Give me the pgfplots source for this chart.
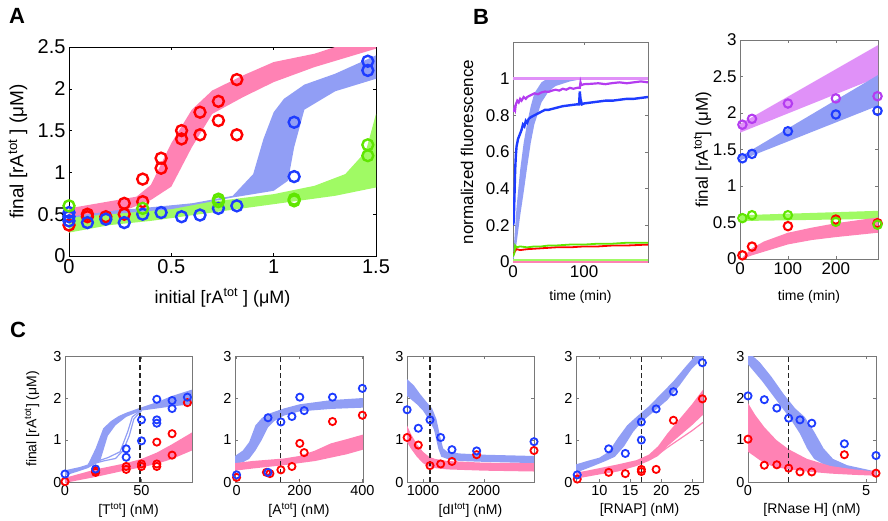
\documentclass[border=0pt]{standalone}
\usepackage{fontspec}
\setmainfont{Liberation Sans}
\usepackage{pgfplots}
\pgfplotsset{compat=1.18}
\definecolor{cred}{RGB}{255,0,0}
\definecolor{cblue}{RGB}{30,60,255}
\definecolor{cgreen}{RGB}{95,230,0}
\definecolor{cpurp}{RGB}{180,60,240}
\definecolor{bpink}{RGB}{255,130,180}
\definecolor{bblue}{RGB}{145,158,245}
\definecolor{bgreen}{RGB}{160,250,100}
\definecolor{bviol}{RGB}{224,145,248}
\definecolor{frm}{RGB}{120,120,120}
\pgfplotsset{
 base/.style={scale only axis, axis line style={frm, line width=0.8pt}, tick style={frm, line width=0.6pt}, major tick length=3pt, /pgf/number format/assume math mode=true, /pgf/number format/1000 sep={}},
 bigpts/.style={only marks, mark=o, mark size=5.5pt, line width=2.4pt},
 midpts/.style={only marks, mark=o, mark size=4.2pt, line width=2.1pt},
 smpts/.style={only marks, mark=o, mark size=3.6pt, line width=1.8pt},
 band/.style={draw=none, fill=#1, forget plot},
 cax/.style={base, width=127pt, height=126pt, ymin=0, ymax=3, ytick={0,1,2,3},
   tick label style={font=\fontsize{14.5}{16}\selectfont},
   label style={font=\fontsize{14}{16}\selectfont},
   xlabel style={at={(axis description cs:0.5,-0.222)}, anchor=center}},
 dash/.style={black!85, line width=1.1pt, dash pattern=on 5pt off 3pt, forget plot},
}
\begin{document}
\begin{tikzpicture}
\path[use as bounding box] (0pt,0pt) rectangle (888pt,-520pt);
\node[font=\fontsize{22}{24}\selectfont\bfseries] at (17pt,-16pt) {A};
\node[font=\fontsize{22}{24}\selectfont\bfseries] at (481pt,-17pt) {B};
\node[font=\fontsize{22}{24}\selectfont\bfseries] at (18pt,-330pt) {C};

% ---------------- Panel A
\begin{axis}[base, at={(69pt,-256pt)}, anchor=south west, width=307pt, height=209pt,
  axis line style={black, line width=0.8pt}, tick style={black},
  xmin=0, xmax=1.5, ymin=0, ymax=2.5, xtick={0,0.5,1,1.5}, ytick={0,0.5,1,1.5,2,2.5},
  tick label style={font=\fontsize{20}{22}\selectfont},
  xlabel={initial [rA\textsuperscript{tot} ] (μM)}, ylabel={final [rA\textsuperscript{tot} ] (μM)},
  xlabel style={font=\fontsize{18}{20}\selectfont, at={(axis description cs:0.5,-0.2)}, anchor=center},
  ylabel style={font=\fontsize{19}{21}\selectfont, at={(axis description cs:-0.166,0.5)}, anchor=center}]
\addplot[band=bgreen] coordinates {(0,0.52) (0.3,0.55) (0.5,0.6) (0.8,0.68) (1.0,0.74) (1.2,0.84) (1.35,0.98) (1.45,1.25) (1.5,1.7) (1.5,0.82) (1.3,0.72) (1.0,0.62) (0.7,0.52) (0.4,0.42) (0.2,0.37) (0,0.28)};
\addplot[band=bblue] coordinates {(0,0.53) (0.3,0.56) (0.6,0.63) (0.8,0.72) (0.9,0.98) (0.95,1.4) (1.0,1.72) (1.05,1.88) (1.15,2.05) (1.3,2.18) (1.5,2.4) (1.5,2.12) (1.3,1.97) (1.15,1.75) (1.1,1.3) (1.07,0.9) (1.0,0.78) (0.8,0.7) (0.5,0.56) (0,0.46)};
\addplot[band=bpink] coordinates {(0,0.57) (0.33,0.71) (0.4,0.85) (0.5,1.35) (0.6,1.75) (0.7,1.98) (0.85,2.16) (1.0,2.32) (1.2,2.42) (1.3,2.5) (1.5,2.5) (1.5,2.48) (1.2,2.26) (1.0,2.08) (0.85,1.9) (0.7,1.7) (0.6,1.3) (0.5,0.83) (0.4,0.67) (0.3,0.57) (0,0.47)};
\addplot[bigpts, cred] coordinates {(0,0.37) (0.09,0.47) (0.09,0.5) (0.18,0.47) (0.27,0.5) (0.27,0.63) (0.36,0.65) (0.36,0.92) (0.45,1.05) (0.45,1.17) (0.55,1.4) (0.55,1.5) (0.64,1.45) (0.64,1.72) (0.73,1.62) (0.73,1.85) (0.82,1.45) (0.82,2.11)};
\addplot[bigpts, cblue] coordinates {(0,0.42) (0,0.47) (0,0.52) (0.09,0.4) (0.18,0.44) (0.27,0.4) (0.36,0.5) (0.45,0.52) (0.55,0.47) (0.64,0.49) (0.73,0.57) (0.82,0.6) (1.1,0.95) (1.1,1.6) (1.46,2.22) (1.46,2.33)};
\addplot[bigpts, cgreen] coordinates {(0,0.6) (0.36,0.57) (0.73,0.65) (0.73,0.68) (1.1,0.66) (1.1,0.68) (1.46,1.2) (1.46,1.33)};
\end{axis}

% ---------------- Panel B left
\begin{axis}[base, at={(513pt,-262pt)}, anchor=south west, width=135pt, height=220pt,
  xmin=0, xmax=190, ymin=0, ymax=1.2, xtick={0,100}, ytick={0,0.2,0.4,0.6,0.8,1},
  tick label style={font=\fontsize{17}{19}\selectfont},
  xlabel={time (min)}, ylabel={normalized fluorescence},
  xlabel style={font=\fontsize{14}{16}\selectfont, at={(axis description cs:0.5,-0.16)}, anchor=center},
  ylabel style={font=\fontsize{17}{19}\selectfont, at={(axis description cs:-0.34,0.5)}, anchor=center}]
\addplot[band=bblue] coordinates {(0,0.02) (5,0.3) (10,0.5) (15,0.65) (20,0.76) (25,0.85) (30,0.92) (40,0.98) (48,1.0) (100,1.0) (80,0.985) (60,0.96) (50,0.93) (40,0.87) (30,0.75) (25,0.65) (20,0.52) (15,0.38) (10,0.25) (5,0.1) (0,0)};
\addplot[bviol, line width=3.5pt, forget plot] coordinates {(0,1.0) (190,1.0)};
\addplot[bgreen, line width=2.5pt, forget plot] coordinates {(0,0.012) (190,0.012)};
\addplot[bpink, line width=2pt, forget plot] coordinates {(0,0.0) (190,0.0)};
\addplot[cpurp, line width=2.2pt] coordinates {(0,0.82) (2,0.84) (3,0.83) (4,0.86) (6,0.88) (8,0.87) (10,0.89) (12,0.88) (15,0.9) (18,0.89) (20,0.9) (25,0.91) (30,0.92) (35,0.915) (40,0.925) (45,0.93) (50,0.928) (55,0.935) (60,0.94) (65,0.935) (70,0.945) (75,0.94) (80,0.95) (85,0.945) (90,0.95) (94,0.95) (95,0.98) (96,0.965) (100,0.97) (110,0.972) (120,0.975) (130,0.97) (140,0.976) (150,0.98) (160,0.975) (170,0.98) (180,0.985) (190,0.98)};
\addplot[cblue, line width=2.4pt] coordinates {(0,0.2) (1,0.22) (2,0.35) (3,0.5) (4,0.58) (5,0.63) (6,0.65) (7,0.67) (8,0.68) (10,0.7) (12,0.72) (14,0.75) (16,0.74) (18,0.77) (20,0.76) (22,0.78) (25,0.79) (30,0.8) (35,0.81) (40,0.82) (45,0.83) (50,0.83) (60,0.84) (70,0.85) (80,0.855) (90,0.86) (93,0.86) (94,0.93) (95,0.89) (97,0.86) (100,0.865) (110,0.87) (120,0.875) (130,0.88) (140,0.88) (150,0.885) (160,0.89) (170,0.89) (180,0.895) (190,0.9)};
\addplot[cred, line width=1.8pt] coordinates {(0,0.04) (3,0.06) (5,0.07) (10,0.065) (20,0.07) (40,0.075) (60,0.08) (80,0.08) (100,0.085) (120,0.085) (140,0.09) (160,0.09) (190,0.095)};
\addplot[cgreen, line width=1.8pt] coordinates {(0,0.03) (2,0.05) (3,0.09) (5,0.08) (10,0.085) (20,0.08) (30,0.085) (40,0.085) (50,0.09) (60,0.09) (80,0.095) (100,0.095) (120,0.1) (140,0.1) (160,0.105) (190,0.105)};
\end{axis}

% ---------------- Panel B right
\begin{axis}[base, at={(740pt,-259pt)}, anchor=south west, width=138pt, height=219pt,
  xmin=0, xmax=288, ymin=0, ymax=3, xtick={0,100,200}, ytick={0,0.5,1,1.5,2,2.5,3},
  tick label style={font=\fontsize{17}{19}\selectfont},
  xlabel={time (min)}, ylabel={final [rA\textsuperscript{tot}] (μM)},
  xlabel style={font=\fontsize{14}{16}\selectfont, at={(axis description cs:0.5,-0.173)}, anchor=center},
  ylabel style={font=\fontsize{17}{19}\selectfont, at={(axis description cs:-0.27,0.5)}, anchor=center}]
\addplot[band=bviol] coordinates {(0,1.85) (288,2.93) (288,2.49) (0,1.73)};
\addplot[band=bblue] coordinates {(0,1.4) (288,2.52) (288,2.1) (0,1.35)};
\addplot[band=bgreen] coordinates {(0,0.6) (288,0.66) (288,0.55) (0,0.52)};
\addplot[band=bpink] coordinates {(5,0.02) (25,0.15) (50,0.24) (100,0.36) (150,0.43) (200,0.49) (288,0.57) (288,0.36) (200,0.3) (150,0.26) (100,0.2) (50,0.1) (25,0.05) (5,0)};
\addplot[midpts, cpurp] coordinates {(5,1.84) (25,1.92) (100,2.13) (200,2.2) (287,2.23)};
\addplot[midpts, cblue] coordinates {(5,1.38) (25,1.44) (100,1.75) (200,1.98) (287,2.03)};
\addplot[midpts, cred] coordinates {(5,0.05) (25,0.17) (100,0.45) (200,0.54) (287,0.49)};
\addplot[midpts, cgreen] coordinates {(5,0.56) (25,0.6) (100,0.6) (200,0.51) (287,0.47)};
\end{axis}

% ---------------- C1
\begin{axis}[cax, at={(65pt,-482pt)}, anchor=south west, xmin=0, xmax=83, xtick={0,50},
  xlabel={[T\textsuperscript{tot}] (nM)}, ylabel={final [rA\textsuperscript{tot}] (μM)},
  ylabel style={at={(axis description cs:-0.26,0.5)}, anchor=center}]
\addplot[band=bblue] coordinates {(0,0.28) (10,0.36) (15,0.42) (20,0.8) (25,1.28) (30,1.45) (35,1.57) (40,1.65) (50,1.78) (60,1.9) (70,2.05) (83,2.2) (83,1.85) (70,1.8) (60,1.75) (50,1.7) (40,1.55) (33,1.35) (28,1.1) (23,0.5) (15,0.33) (0,0.15)};
\addplot[bblue, line width=1.2pt, forget plot] coordinates {(15,0.4) (25,0.5) (33,0.56) (38,0.75) (42,1.1) (45,1.5) (50,1.7)};
\addplot[bblue, line width=1.2pt, forget plot] coordinates {(15,0.42) (28,0.58) (36,0.72) (41,1.2) (44,1.55) (50,1.72)};
\addplot[band=bpink] coordinates {(0,0.1) (20,0.3) (40,0.45) (50,0.55) (60,0.7) (70,0.9) (83,1.18) (83,0.75) (70,0.55) (60,0.43) (50,0.35) (40,0.28) (20,0.12) (0,-0.02)};
\addplot[dash] coordinates {(49,0) (49,3)};
\addplot[smpts, cred] coordinates {(0,0.01) (20,0.23) (20,0.27) (40,0.3) (40,0.37) (50,0.37) (50,0.43) (60,0.37) (60,0.43) (60,0.95) (70,0.64) (70,1.15) (80,1.89)};
\addplot[smpts, cblue] coordinates {(0,0.19) (20,0.31) (40,0.59) (40,0.79) (50,0.98) (50,1.48) (60,1.4) (60,1.48) (60,1.97) (70,1.75) (70,1.94) (80,2.02)};
\end{axis}

% ---------------- C2
\begin{axis}[cax, at={(235pt,-482pt)}, anchor=south west, width=128pt, xmin=-5, xmax=402, xtick={0,200,400},
  xlabel={[A\textsuperscript{tot}] (nM)}]
\addplot[band=bblue] coordinates {(-5,0.62) (20,0.75) (40,0.95) (60,1.35) (80,1.52) (100,1.62) (150,1.75) (200,1.85) (250,1.9) (300,1.95) (402,2.0) (402,1.77) (300,1.74) (200,1.68) (150,1.58) (120,1.45) (100,1.3) (80,1.0) (60,0.75) (40,0.55) (20,0.47) (-5,0.43)};
\addplot[band=bpink] coordinates {(-5,0.45) (50,0.5) (100,0.53) (150,0.56) (200,0.62) (250,0.75) (300,0.92) (350,1.02) (402,1.13) (402,0.77) (350,0.66) (300,0.58) (250,0.5) (200,0.45) (150,0.4) (100,0.36) (50,0.32) (-5,0.27)};
\addplot[dash] coordinates {(141,0) (141,3)};
\addplot[smpts, cred] coordinates {(0,0.11) (95,0.23) (106,0.2) (141,0.29) (176,0.37) (201,0.92) (215,0.7) (305,1.44) (400,1.59)};
\addplot[smpts, cblue] coordinates {(0,0.17) (100,0.23) (100,1.53) (141,1.43) (176,1.56) (201,2.02) (215,1.7) (305,2.02) (400,2.23)};
\end{axis}

% ---------------- C3
\begin{axis}[cax, at={(407pt,-482pt)}, anchor=south west, xmin=738, xmax=2820, xtick={1000,2000},
  xlabel={[dI\textsuperscript{tot}] (nM)}]
\addplot[band=bblue] coordinates {(738,2.45) (850,2.3) (950,2.1) (1050,1.92) (1150,1.75) (1220,1.5) (1280,1.1) (1330,0.8) (1400,0.72) (1600,0.68) (2000,0.65) (2820,0.62) (2820,0.45) (2000,0.48) (1600,0.5) (1400,0.55) (1300,0.6) (1250,0.8) (1180,1.25) (1100,1.48) (1000,1.7) (900,1.85) (738,2.05)};
\addplot[band=bpink] coordinates {(738,1.35) (800,1.15) (900,0.9) (1000,0.72) (1100,0.6) (1200,0.55) (1400,0.5) (2000,0.46) (2820,0.45) (2820,0.25) (2000,0.27) (1400,0.3) (1200,0.33) (1100,0.36) (1000,0.45) (900,0.6) (800,0.8) (738,0.95)};
\addplot[dash] coordinates {(1115,0) (1115,3)};
\addplot[smpts, cred] coordinates {(740,1.06) (923,0.88) (1115,0.39) (1290,0.43) (1475,0.49) (1880,0.65) (2820,0.75)};
\addplot[smpts, cblue] coordinates {(740,1.72) (923,1.28) (1115,1.48) (1290,1.06) (1475,0.77) (1880,0.74) (2820,0.96)};
\end{axis}

% ---------------- C4
\begin{axis}[cax, at={(576pt,-482pt)}, anchor=south west, xmin=6.2, xmax=26.8, xtick={10,15,20,25},
  xlabel={[RNAP] (nM)}]
\addplot[band=bblue] coordinates {(6.2,0.42) (8,0.5) (10,0.58) (11.5,0.72) (13,1.05) (14.5,1.35) (16,1.55) (18,1.8) (20,2.1) (22,2.4) (24,2.75) (25.5,3.0) (26.8,3.0) (26.8,2.95) (25,2.7) (23,2.3) (21,1.95) (19,1.7) (17,1.45) (15.5,1.2) (14,0.85) (12.5,0.6) (11,0.5) (9,0.38) (6.2,0.22)};
\addplot[bblue, line width=1.2pt, forget plot] coordinates {(11,0.55) (12.5,0.68) (13.5,0.9) (14.5,1.2) (16,1.45)};
\addplot[band=bpink] coordinates {(6.2,0.22) (10,0.33) (13,0.42) (16,0.52) (18,0.65) (19.5,0.85) (21,1.15) (23,1.5) (25,1.85) (26.8,2.2) (26.8,1.6) (25,1.35) (23,1.1) (21,0.85) (19.5,0.62) (18,0.5) (16,0.38) (13,0.25) (10,0.18) (6.2,0.08)};
\addplot[bpink, line width=1.2pt, forget plot] coordinates {(19,0.6) (21,0.82) (23,1.02) (25,1.22) (26.8,1.42)};
\addplot[dash] coordinates {(16.8,0) (16.8,3)};
\addplot[smpts, cred] coordinates {(6.4,0.07) (11.5,0.23) (14.2,0.2) (16.8,0.25) (16.8,0.3) (19.2,0.3) (22,1.47) (26.7,1.98)};
\addplot[smpts, cblue] coordinates {(6.4,0.17) (11.5,0.79) (14.2,0.68) (16.8,1.0) (16.8,1.43) (19.2,1.74) (22,2.15) (26.7,2.84)};
\end{axis}

% ---------------- C5
\begin{axis}[cax, at={(748pt,-482pt)}, anchor=south west, width=128pt, xmin=0, xmax=5.42, xtick={0,5},
  xlabel={[RNase H] (nM)}]
\addplot[band=bblue] coordinates {(0,3.1) (0.5,2.85) (1,2.5) (1.5,2.1) (2,1.75) (2.4,1.55) (2.8,1.2) (3.2,0.8) (3.6,0.55) (4.2,0.4) (5.42,0.25) (5.42,0.15) (4.5,0.22) (3.8,0.3) (3.2,0.42) (2.8,0.55) (2.5,0.8) (2.2,1.15) (1.8,1.5) (1.2,1.95) (0.6,2.4) (0,2.8)};
\addplot[band=bpink] coordinates {(0,1.88) (0.3,1.6) (0.7,1.3) (1.2,1.0) (1.72,0.78) (2.5,0.55) (3.5,0.38) (4.5,0.3) (5.42,0.25) (5.42,0.15) (4.5,0.17) (3.5,0.2) (2.5,0.25) (1.7,0.3) (1,0.38) (0.5,0.52) (0,0.72)};
\addplot[dash] coordinates {(1.72,0) (1.72,3)};
\addplot[smpts, cred] coordinates {(0,1.02) (0.69,0.4) (1.22,0.41) (1.72,0.33) (2.2,0.24) (2.7,0.24) (4.08,0.65) (5.42,0.21)};
\addplot[smpts, cblue] coordinates {(0,2.05) (0.69,1.96) (1.22,1.76) (1.72,1.52) (2.2,1.48) (2.7,1.4) (4.08,0.91) (5.42,0.63)};
\end{axis}
\end{tikzpicture}
\end{document}
